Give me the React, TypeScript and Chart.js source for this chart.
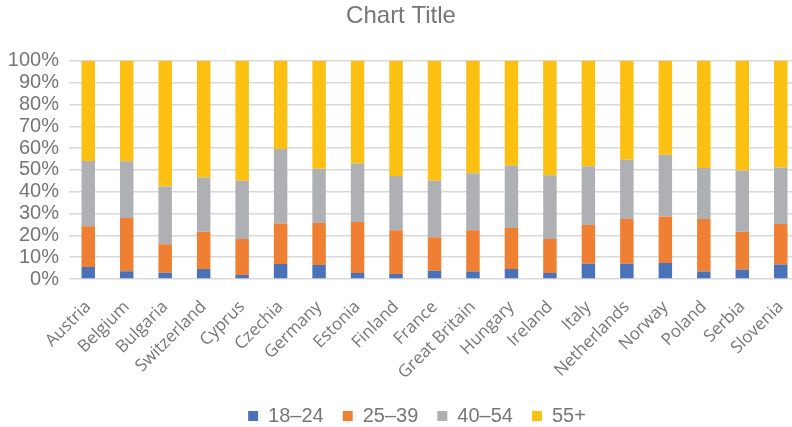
import React, { useEffect, useRef } from "react";
import { Chart, registerables } from "chart.js";

Chart.register(...registerables);

const countries = [
  "Austria", "Belgium", "Bulgaria", "Switzerland", "Cyprus", "Czechia", "Germany",
  "Estonia", "Finland", "France", "Great Britain", "Hungary", "Ireland", "Italy",
  "Netherlands", "Norway", "Poland", "Serbia", "Slovenia",
];

const age18to24 = [5.5, 3.5, 2.9, 4.6, 1.8, 6.9, 6.4, 2.8, 2.3, 3.8, 3.4, 4.6, 2.8, 7.0, 7.0, 7.3, 3.4, 4.3, 6.7];
const age25to39 = [18.7, 24.5, 13.0, 17.0, 16.5, 18.5, 19.3, 23.3, 20.0, 15.3, 18.9, 18.8, 15.5, 17.8, 20.5, 21.4, 24.1, 17.4, 18.5];
const age40to54 = [29.9, 26.0, 26.5, 24.9, 26.7, 34.2, 24.8, 26.8, 24.9, 25.9, 26.2, 28.6, 29.3, 26.9, 27.2, 28.2, 23.4, 28.0, 25.9];
const age55plus = [45.9, 46.0, 57.6, 53.5, 55.0, 40.4, 49.5, 47.1, 52.8, 55.0, 51.5, 48.0, 52.4, 48.3, 45.3, 43.1, 49.1, 50.3, 48.9];

const seriesNames = ["18–24", "25–39", "40–54", "55+"];
const seriesColors = ["#4A72B8", "#EE7F33", "#AFB0B3", "#FCC012"];

const TEXT = "#767676";
const SANS = "'Liberation Sans', Arial, sans-serif";

const nudge = {
  id: "nudge",
  afterLayout(chart: any) {
    const lg = chart.legend;
    if (lg) {
      lg.left += 13;
      lg.right += 13;
      lg.top += 9;
      lg.bottom += 9;
    }
    const t = chart.titleBlock;
    if (t) {
      t.left -= 3;
      t.right -= 3;
    }
  },
};

export default function App() {
  const ref = useRef<HTMLCanvasElement | null>(null);

  useEffect(() => {
    if (!ref.current) return;
    const values = [age18to24, age25to39, age40to54, age55plus];
    const chart = new Chart(ref.current, {
      type: "bar",
      data: {
        labels: countries,
        datasets: seriesNames.map((name, i) => ({
          label: name,
          data: values[i],
          backgroundColor: seriesColors[i],
          borderWidth: 0,
          categoryPercentage: 0.35,
          barPercentage: 1,
        })),
      },
      options: {
        responsive: false,
        animation: false,
        layout: { padding: { left: 8, right: 0, top: 0, bottom: 0 } },
        plugins: {
          title: {
            display: true,
            text: "Chart Title",
            color: TEXT,
            font: { family: SANS, size: 24, weight: "normal" },
            padding: { top: 2, bottom: 30 },
          },
          legend: {
            position: "bottom",
            labels: {
              color: TEXT,
              font: { family: SANS, size: 20 },
              boxWidth: 10,
              boxHeight: 10,
              padding: 19,
            },
          },
          tooltip: { enabled: false },
        },
        scales: {
          x: {
            stacked: true,
            grid: { display: false },
            border: { display: false },
            afterFit: (s: any) => {
              s.paddingLeft = 0;
              s.paddingRight = 0;
              s.height = 99;
            },
            ticks: {
              color: TEXT,
              font: { family: "'Open Sans', sans-serif", size: 17 },
              minRotation: 45,
              maxRotation: 45,
              autoSkip: false,
              padding: 10,
            },
          },
          y: {
            stacked: true,
            min: 0,
            max: 100,
            border: { display: false },
            grid: { color: "#D9D9D9", lineWidth: 1.5, drawTicks: false },
            afterFit: (s: any) => {
              s.width = 61;
            },
            ticks: {
              stepSize: 10,
              autoSkip: false,
              color: TEXT,
              font: { family: SANS, size: 20 },
              padding: 10,
              callback: (v: any) => v + "%",
            },
          },
        },
      },
      plugins: [nudge],
    });
    return () => chart.destroy();
  }, []);

  return (
    <div style={{ position: "fixed", left: 0, top: 0, width: 792, height: 427, overflow: "hidden", background: "#fff" }}>
      <canvas ref={ref} width={800} height={427} style={{ display: "block" }} />
    </div>
  );
}
